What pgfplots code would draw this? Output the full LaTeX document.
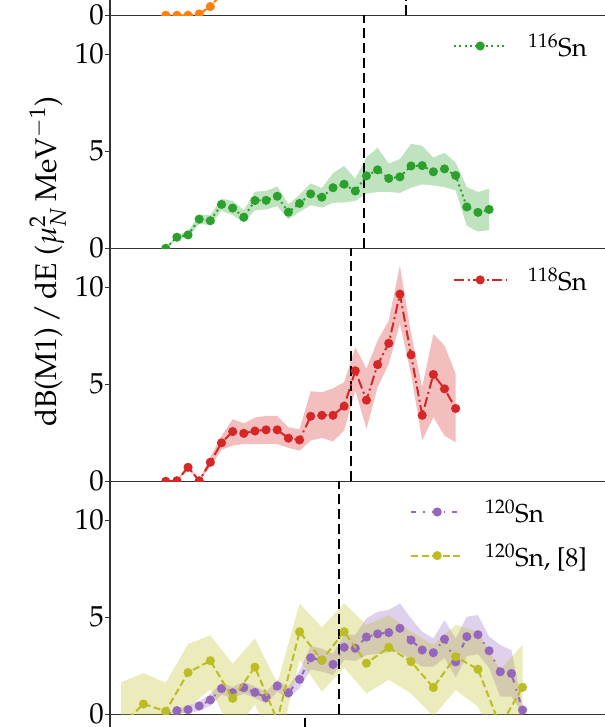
\documentclass[border=0pt]{standalone}
\usepackage[T1]{fontenc}
\usepackage{mathpazo}
\usepackage{pgfplots}
\pgfplotsset{compat=1.18}
\usepackage{pgfplotstable}
\usepgfplotslibrary{fillbetween}

\definecolor{tabgreen}{HTML}{2CA02C}
\definecolor{tabred}{HTML}{D62728}
\definecolor{tabpurple}{HTML}{9467BD}
\definecolor{tabolive}{HTML}{BCBD22}
\definecolor{taborange}{HTML}{FF7F0E}

% E (MeV), value, lower, upper edge of band
\pgfplotstableread{
E v lo hi
6.0 0.00 0.00 0.00
6.2 0.57 0.47 0.69
6.4 0.69 0.57 0.86
6.6 1.50 1.25 1.74
6.8 1.42 1.20 1.71
7.0 2.26 1.93 2.56
7.2 2.07 1.71 2.44
7.4 1.60 1.32 1.96
7.6 2.46 1.96 2.92
7.8 2.47 2.00 2.95
8.0 2.68 2.17 3.19
8.2 1.86 1.49 2.27
8.4 2.31 1.88 2.76
8.6 2.80 2.22 3.34
8.8 2.63 2.10 3.10
9.0 3.12 2.34 3.87
9.2 3.30 2.36 4.24
9.4 2.95 2.44 3.58
9.6 3.73 2.81 4.69
9.8 4.04 2.90 5.18
10.0 3.60 2.90 4.36
10.2 3.68 2.85 4.60
10.4 4.24 3.12 5.38
10.6 4.26 3.29 5.28
10.8 3.94 3.24 4.67
11.0 4.09 3.15 4.92
11.2 3.75 2.98 4.41
11.4 2.13 1.15 3.15
11.6 1.85 0.86 2.90
11.8 2.00 0.94 3.07
}\snA

\pgfplotstableread{
E v lo hi
6.0 0.00 0.00 0.00
6.2 0.03 0.00 0.07
6.4 0.72 0.60 0.89
6.6 0.03 0.00 0.07
6.8 0.98 0.75 1.24
7.0 1.98 1.62 2.34
7.2 2.56 1.84 3.20
7.4 2.47 1.92 2.98
7.6 2.59 1.92 3.28
7.8 2.65 1.92 3.37
8.0 2.65 1.92 3.37
8.2 2.22 1.72 2.78
8.4 2.13 1.58 2.68
8.6 3.35 2.10 4.64
8.8 3.40 2.23 4.59
9.0 3.40 2.06 4.79
9.2 3.87 2.61 5.10
9.4 5.69 4.67 6.91
9.6 4.18 2.70 5.80
9.8 6.01 4.84 7.25
10.0 7.11 6.05 8.28
10.2 9.64 8.11 11.12
10.4 6.51 5.53 7.59
10.6 3.40 2.10 4.85
10.8 5.50 3.30 7.59
11.0 4.76 2.35 6.99
11.2 3.75 2.01 5.53
}\snB

\pgfplotstableread{
E v lo hi
6.0 0.00 0.00 0.00
6.2 0.19 0.10 0.28
6.4 0.24 0.05 0.43
6.6 0.43 0.18 0.68
6.8 0.74 0.44 1.04
7.0 1.32 1.02 1.62
7.2 1.11 0.81 1.41
7.4 1.37 1.07 1.67
7.6 1.13 0.83 1.43
7.8 0.86 0.56 1.16
8.0 1.46 1.16 1.76
8.2 1.11 0.81 1.41
8.4 1.80 1.35 2.25
8.6 2.91 2.30 3.52
8.8 2.79 2.20 3.38
9.0 2.57 2.02 3.12
9.2 3.45 2.80 4.10
9.4 3.40 2.75 4.10
9.6 3.98 3.05 4.94
9.8 4.14 3.10 5.28
10.0 4.21 3.20 5.37
10.2 4.43 3.20 5.71
10.4 3.82 2.80 4.94
10.6 3.31 2.45 4.25
10.8 3.17 2.45 3.91
11.0 3.87 2.90 4.85
11.2 2.70 1.90 3.91
11.4 4.00 3.00 5.03
11.6 4.10 3.10 5.11
11.8 3.27 2.40 4.00
12.0 2.19 0.91 3.57
12.2 2.10 0.91 3.31
12.4 0.22 0.05 0.39
}\snC

\pgfplotstableread{
E v lo hi
5.2 -0.60 -2.00 1.65
5.6 0.53 -1.50 2.12
6.0 0.16 -1.50 1.62
6.4 2.15 0.30 3.62
6.8 2.76 1.30 4.06
7.2 0.82 -1.00 2.60
7.6 2.43 0.50 3.91
8.0 -0.30 -2.00 1.60
8.4 4.25 2.80 5.70
8.8 2.79 1.17 4.48
9.2 4.25 2.40 5.71
9.6 2.63 1.08 4.60
10.0 3.45 1.77 5.10
10.4 2.71 1.08 4.25
10.8 1.38 -0.10 3.57
11.2 2.97 1.25 4.60
11.6 2.32 0.40 4.25
12.0 -0.60 -2.00 2.30
12.4 1.39 -1.00 3.57
}\snD

\tikzset{vline/.style={black, line width=2bp, dash pattern=on 10bp off 5bp}}

\pgfplotsset{
  panel/.style={
    anchor=south west, scale only axis,
    width=495bp, height=233bp,
    xmin=5, xmax=13.879, ymin=0, ymax=12,
    clip marker paths=true,
    axis x line*=bottom, axis y line*=left,
    axis line style={line width=1.3bp, black!80},
    xtick=\empty, ytick={0,5,10},
    major tick length=5bp, tick align=outside,
    tick style={line width=1.1bp, black!80},
    yticklabel style={font=\fontsize{29}{29}\selectfont, inner sep=1bp},
    legend style={draw=none, fill=none, font=\fontsize{26}{30}\selectfont,
      anchor=north west, inner sep=0pt, row sep=19bp, nodes={inner sep=0pt},
      /tikz/every odd column/.append style={column sep=21bp}},
    legend cell align=left,
    legend image code/.code={\draw[mark repeat=2,mark phase=2,##1] plot coordinates {(0bp,0bp) (26bp,0bp) (52bp,0bp)};},
  },
  dot/.style={mark=*, mark size=3.5bp, mark options={solid, draw=none, fill=#1}},
}

\begin{document}
\begin{tikzpicture}

% panel above (only its bottom edge is in view)
\begin{axis}[panel, at={(110bp,711.7bp)}, height=15.3bp, ymax=0.788]
\addplot[taborange, line width=2bp, dash pattern=on 5bp off 2.5bp, dot=taborange]
  coordinates {(6.0,0)(6.2,0)(6.4,0)(6.6,0.07)(6.8,0.45)(7.0,1.1)(7.2,1.8)(7.4,2.5)};
\draw[vline] (axis cs:10.303,0) -- (axis cs:10.303,0.788);
\end{axis}

% 116Sn
\begin{axis}[panel, at={(110bp,478.7bp)}, legend style={at={(0.6929,0.922)}}]
\addplot[name path=au, draw=none, forget plot] table[x=E,y=hi]{\snA};
\addplot[name path=al, draw=none, forget plot] table[x=E,y=lo]{\snA};
\addplot[fill=tabgreen, fill opacity=0.3, draw=none, forget plot] fill between[of=au and al];
\draw[vline] (axis cs:9.563,0) -- (axis cs:9.563,12);
\addplot[tabgreen, line width=2bp, dash pattern=on 2bp off 3.3bp, dot=tabgreen] table[x=E,y=v]{\snA};
\addlegendentry{$^{116}$Sn}
\end{axis}

% 118Sn
\begin{axis}[panel, at={(110bp,245.7bp)}, legend style={at={(0.6929,0.918)}}]
\addplot[name path=bu, draw=none, forget plot] table[x=E,y=hi]{\snB};
\addplot[name path=bl, draw=none, forget plot] table[x=E,y=lo]{\snB};
\addplot[fill=tabred, fill opacity=0.3, draw=none, forget plot] fill between[of=bu and bl];
\draw[vline] (axis cs:9.326,0) -- (axis cs:9.326,12);
\addplot[tabred, line width=2bp, dash pattern=on 10bp off 3.5bp on 2bp off 3.5bp, dot=tabred] table[x=E,y=v]{\snB};
\addlegendentry{$^{118}$Sn}
\end{axis}

% 120Sn
\begin{axis}[panel, at={(110bp,12.7bp)}, legend style={at={(0.6061,0.922)}}]
\addplot[name path=cu, draw=none, forget plot] table[x=E,y=hi]{\snC};
\addplot[name path=cl, draw=none, forget plot] table[x=E,y=lo]{\snC};
\addplot[fill=tabpurple, fill opacity=0.3, draw=none, forget plot] fill between[of=cu and cl];
\addplot[name path=du, draw=none, forget plot] table[x=E,y=hi]{\snD};
\addplot[name path=dl, draw=none, forget plot] table[x=E,y=lo]{\snD};
\addplot[fill=tabolive, fill opacity=0.3, draw=none, forget plot] fill between[of=du and dl];
\draw[vline] (axis cs:9.105,0) -- (axis cs:9.105,12);
\addplot[tabpurple, line width=2bp, dash pattern=on 5bp off 7bp on 1.5bp off 7bp, dot=tabpurple] table[x=E,y=v]{\snC};
\addlegendentry{$^{120}$Sn}
\addplot[tabolive, line width=2bp, dash pattern=on 7bp off 3.5bp, dot=tabolive] table[x=E,y=v]{\snD};
\addlegendentry{$^{120}$Sn, [8]}
\end{axis}

% top of the panel below: its left spine and a dash of its separation-energy line
\draw[black!80, line width=1.3bp] (110bp,12.7bp) -- (110bp,0bp);
\draw[black, line width=2bp] (305bp,9bp) -- (305bp,0bp);

\node[rotate=90, anchor=base, font=\fontsize{30}{30}\selectfont] at (56bp,465bp)
  {dB(M1)\,/\,dE ($\mu^2_N$\,MeV$^{-1}$)};

\pgfresetboundingbox
\path[use as bounding box] (0,0) rectangle (605bp,727bp);
\end{tikzpicture}
\end{document}
